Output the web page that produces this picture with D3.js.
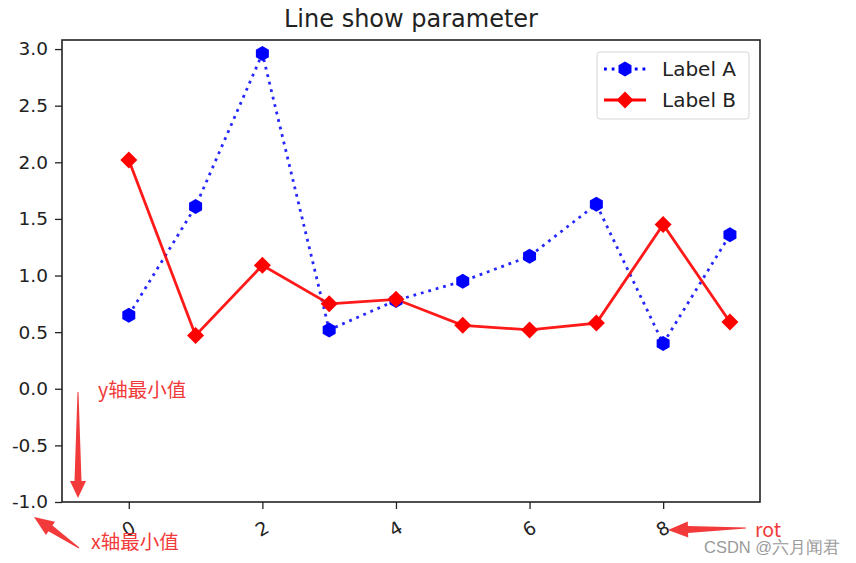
<!DOCTYPE html>
<html><head><meta charset="utf-8">
<script src="https://cdn.jsdelivr.net/npm/d3@7"></script>
<style>body{margin:0;background:#fff}svg{display:block}</style>
</head><body><svg id="c" width="856" height="563"></svg>
<script>
const xValues = [0,1,2,3,4,5,6,7,8,9];
const seriesA = [0.65,1.61,2.96,0.52,0.78,0.95,1.17,1.63,0.40,1.36];
const seriesB = [2.02,0.47,1.09,0.75,0.79,0.56,0.52,0.58,1.45,0.59];
const xTicks = [0,2,4,6,8];
const yTicks = [-1.0,-0.5,0.0,0.5,1.0,1.5,2.0,2.5,3.0];
const labels = ["Label A","Label B"];
const title = "Line show parameter";

const svg = d3.select("#c");
const L=62,R=760,T=40,B=502;
const x = d3.scaleLinear().domain([-1,9.45]).range([L,R]);
const y = d3.scaleLinear().domain([-1,3.08]).range([B,T]);
const font="DejaVu Sans, sans-serif";

// axes
const gx = svg.append("g").attr("transform",`translate(0,${B})`)
  .call(d3.axisBottom(x).tickValues(xTicks).tickFormat(d3.format("d")).tickSize(7).tickPadding(4));
gx.select(".domain").remove();
gx.selectAll("line").attr("stroke","#222").attr("stroke-width",1.3);
gx.selectAll("text").attr("font-family",font).attr("font-size",18.5).attr("fill","#222")
  .attr("dy",null).attr("y",null)
  .attr("transform","translate(0,28) rotate(-30)").attr("dominant-baseline","middle");

const gy = svg.append("g").attr("transform",`translate(${L},0)`)
  .call(d3.axisLeft(y).tickValues(yTicks).tickSize(7).tickPadding(7));
gy.select(".domain").remove();
gy.selectAll("line").attr("stroke","#222").attr("stroke-width",1.3);
gy.selectAll("text").attr("font-family",font).attr("font-size",18.5).attr("fill","#222")
  .text(d=>d3.format(".1f")(d).replace("−","-"));

svg.append("rect").attr("x",L).attr("y",T).attr("width",R-L).attr("height",B-T)
  .attr("fill","none").attr("stroke","#222").attr("stroke-width",1.6);

svg.append("text").attr("x",(L+R)/2).attr("y",27).attr("text-anchor","middle")
  .attr("font-family",font).attr("font-size",24).attr("fill","#222").text(title);

const line = d3.line().x((d,i)=>x(xValues[i])).y(d=>y(d));
const hex = d3.symbol().type({draw(ctx,size){const r=Math.sqrt(size/2.598);for(let i=0;i<6;i++){const a=Math.PI/3*i-Math.PI/2;const px=r*Math.cos(a),py=r*Math.sin(a);i?ctx.lineTo(px,py):ctx.moveTo(px,py);}ctx.closePath();}}).size(2.598*7.5*7.5);
const diamond = d3.symbol().type({draw(ctx,size){const r=Math.sqrt(size/2);ctx.moveTo(0,-r);ctx.lineTo(r,0);ctx.lineTo(0,r);ctx.lineTo(-r,0);ctx.closePath();}}).size(2*8.5*8.5);

const dotDash = "2.8 4.9";
svg.append("path").datum(seriesA).attr("d",line).attr("fill","none").attr("stroke","#0000ff")
  .attr("stroke-width",2.8).attr("stroke-dasharray",dotDash).attr("opacity",0.85);
svg.append("path").datum(seriesB).attr("d",line).attr("fill","none").attr("stroke","#ff0000")
  .attr("stroke-width",2.8).attr("opacity",0.9);
svg.selectAll(".mA").data(seriesA).join("path").attr("d",hex)
  .attr("transform",(d,i)=>`translate(${x(xValues[i])},${y(d)})`).attr("fill","#0000ff");
svg.selectAll(".mB").data(seriesB).join("path").attr("d",diamond)
  .attr("transform",(d,i)=>`translate(${x(xValues[i])},${y(d)})`).attr("fill","#ff0000");

// legend
const lg = svg.append("g");
lg.append("rect").attr("x",597).attr("y",52).attr("width",152).attr("height",67).attr("rx",3)
  .attr("fill","#fff").attr("stroke","#d6d6d6").attr("stroke-width",1);
[[69,"#0000ff",hex,true],[100,"#ff0000",diamond,false]].forEach(([yy,c,sym,dot],k)=>{
  lg.append("line").attr("x1",604).attr("x2",646).attr("y1",yy).attr("y2",yy).attr("stroke",c)
    .attr("stroke-width",2.8).attr("stroke-dasharray",dot?dotDash:null);
  lg.append("path").attr("d",sym).attr("transform",`translate(625,${yy})`).attr("fill",c);
  lg.append("text").attr("x",662).attr("y",yy).attr("dy","0.36em").attr("font-family",font)
    .attr("font-size",20).attr("fill","#222").text(labels[k]);
});

// annotations
const red="#f23a3a";
function arrow(x1,y1,x2,y2,w0,w1,hl,hw){
  const dx=x2-x1,dy=y2-y1,len=Math.hypot(dx,dy),ux=dx/len,uy=dy/len,nx=-uy,ny=ux;
  const bx=x2-ux*hl,by=y2-uy*hl;
  const pts=[[x1+nx*w0/2,y1+ny*w0/2],[bx+nx*w1/2,by+ny*w1/2],[bx+nx*hw/2,by+ny*hw/2],[x2,y2],
    [bx-nx*hw/2,by-ny*hw/2],[bx-nx*w1/2,by-ny*w1/2],[x1-nx*w0/2,y1-ny*w0/2]];
  svg.append("polygon").attr("points",pts.map(p=>p.join(",")).join(" ")).attr("fill",red);
}
arrow(78,392,78,498,1,7,17,16);
arrow(79,548,34,517,1,7,20,16);
arrow(746,528,668,530,1,7,20,16);
const cjk="'Noto Sans CJK SC', sans-serif";
svg.append("text").attr("x",98).attr("y",397).attr("font-family",cjk).attr("font-size",19.5).attr("fill",red).text("y轴最小值");
svg.append("text").attr("x",91).attr("y",549).attr("font-family",cjk).attr("font-size",19.5).attr("fill",red).text("x轴最小值");
svg.append("text").attr("x",755).attr("y",537).attr("font-family",cjk).attr("font-size",19.5).attr("fill",red).text("rot");
svg.append("text").attr("x",704).attr("y",553).attr("font-family","'Liberation Sans', Arial, sans-serif").attr("font-size",16.5).attr("fill","#9a9a9a").text("CSDN @六月闻君");
</script></body></html>
